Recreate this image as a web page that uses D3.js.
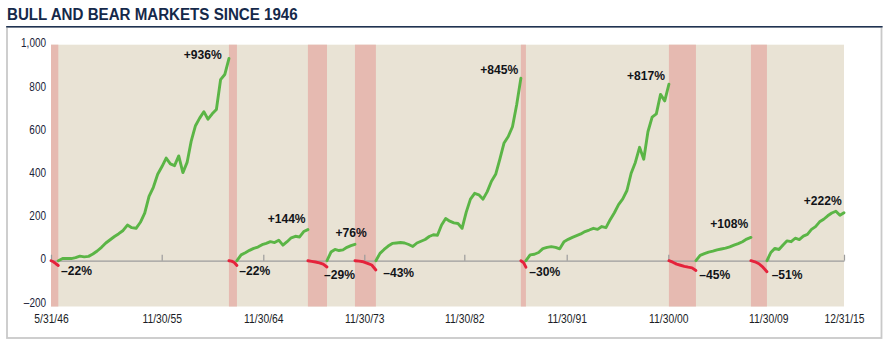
<!DOCTYPE html>
<html>
<head>
<meta charset="utf-8">
<script src="https://cdn.jsdelivr.net/npm/d3@7"></script>
<style>
  html, body { margin: 0; padding: 0; background: #ffffff; }
  svg { display: block; }
  text { font-family: "Liberation Sans", Arial, Helvetica, sans-serif; }
</style>
</head>
<body>
<svg id="chart" width="892" height="348"></svg>
<script>
// ---------------- DATA ----------------
const titleText = "BULL AND BEAR MARKETS SINCE 1946";

const tickDates  = ["1946-05-31","1955-11-30","1964-11-30","1973-11-30","1982-11-30","1991-11-30","2000-11-30","2009-11-30","2015-12-31"];
const tickLabels = ["5/31/46","11/30/55","11/30/64","11/30/73","11/30/82","11/30/91","11/30/00","11/30/09","12/31/15"];
const yTicks = [-200, 0, 200, 400, 600, 800, 1000];

const periodTypes  = ["bear","bull","bear","bull","bear","bull","bear","bull","bear","bull","bear","bull","bear","bull"];
const periodStarts = ["1946-05-31","1947-01-15","1961-11-14","1962-07-31","1968-11-21","1970-08-04","1973-01-30","1974-12-16","1987-11-20","1988-04-30","2000-12-20","2003-05-27","2008-05-08","2009-10-16"];
const periodEnds   = ["1947-01-15","1961-11-14","1962-07-31","1968-11-21","1970-08-04","1973-01-30","1974-12-16","1987-11-20","1988-04-30","2000-12-20","2003-05-27","2008-05-08","2009-10-16","2015-12-31"];
const periodLabels = ["\u201322%","+936%","\u201322%","+144%","\u201329%","+76%","\u201343%","+845%","\u201330%","+817%","\u201345%","+108%","\u201351%","+222%"];

// cumulative % change within each period, evenly spaced in time from start to end
const bear1946 = [0, -5, -14, -22];
const bull1947 = [0,10,11,10,14,21,18,20,31,45,62,82,97,112,125,140,165,153,150,178,220,298,340,400,436,475,448,440,485,408,455,555,625,660,690,655,680,700,838,862,936];
const bear1961 = [0, -2, -8, -22];
const bull1962 = [0,27,37,48,57,63,74,80,88,84,95,72,88,106,113,110,135,144];
const bear1968 = [0, -3, -6, -10, -16, -29];
const bull1970 = [0, 40, 52, 47, 50, 62, 70, 76];
const bear1973 = [0, -2, -5, -12, -20, -43];
const bull1974 = [0,34,52,68,80,82,84,82,75,66,82,90,98,112,120,118,165,195,183,175,172,150,225,285,312,305,285,320,368,400,470,545,575,620,722,845];
const bear1987 = [0, -8, -30];
const bull1988 = [0,27,30,38,56,62,65,62,55,88,99,108,116,124,135,142,150,145,158,153,190,222,260,286,325,405,455,525,470,597,665,680,770,740,817];
const bear2000 = [0, -7, -16, -21, -26, -30, -33, -45];
const bull2003 = [0,25,33,40,44,50,54,58,64,72,79,88,100,108];
const bear2008 = [0, -5, -14, -30, -51];
const bull2009 = [0,38,57,52,73,92,88,104,98,114,122,145,158,180,192,208,221,229,210,222];

const periodValues = [bear1946,bull1947,bear1961,bull1962,bear1968,bull1970,bear1973,bull1974,bear1987,bull1988,bear2000,bull2003,bear2008,bull2009];

// ---------------- LAYOUT ----------------
const parse = d3.timeParse("%Y-%m-%d");
const svg = d3.select("#chart");

const plotLeft = 51, plotRight = 844, plotTop = 44.7, plotBottom = 306.5;
const tickPixels = [51, 161.7, 263.3, 364.3, 464.3, 566.7, 668.3, 768.3, 844];

const x = d3.scaleTime().domain(tickDates.map(parse)).range(tickPixels);
const y = d3.scaleLinear().domain([-212, 1000]).range([plotBottom, plotTop]);

const C = {
  navy: "#15294a", beige: "#e9e3d5", band: "#e6bab1",
  green: "#5bb546", red: "#e5223b", axis: "#9c9c9c", frame: "#c9c9c9"
};

// label offsets (layout only): bull -> from line end (anchor end); bear -> dx from period end, baseline below zero
const labelNudge = [[2.7,14.3],[-7.3,0.8],[2.3,14.3],[-2.3,-6.3],[-3,18.3],[11.7,-7.6],[7.3,16.6],[-2.7,-4.2],[3.3,15],[-4,-4.2],[3.3,18.3],[-2.7,-9.1],[4.7,18.3],[-2.3,-7.7]];

function condense(sel, f) {
  sel.each(function() {
    const w = this.getComputedTextLength();
    this.setAttribute("textLength", (w * f).toFixed(2));
    this.setAttribute("lengthAdjust", "spacingAndGlyphs");
  });
}

// frame
svg.append("rect").attr("x", 7).attr("y", 27).attr("width", 874.5).attr("height", 311)
  .attr("fill", "#fff").attr("stroke", C.frame).attr("stroke-width", 1.8);
svg.append("line").attr("x1", 6.2).attr("x2", 882.6).attr("y1", 26.8).attr("y2", 26.8)
  .attr("stroke", "#1f3352").attr("stroke-width", 1.6);

// title
svg.append("text").attr("x", 7).attr("y", 20.2)
  .attr("font-size", 16).attr("font-weight", "bold").attr("fill", C.navy)
  .text(titleText).call(condense, 0.945);

// plot background
svg.append("rect").attr("x", plotLeft).attr("y", plotTop)
  .attr("width", plotRight - plotLeft).attr("height", plotBottom - plotTop).attr("fill", C.beige);

const periods = periodTypes.map((t, i) => ({
  type: t, start: parse(periodStarts[i]), end: parse(periodEnds[i]),
  label: periodLabels[i], values: periodValues[i], nudge: labelNudge[i]
}));

// bear bands
svg.append("g").selectAll("rect").data(periods.filter(p => p.type === "bear")).join("rect")
  .attr("x", d => x(d.start)).attr("width", d => x(d.end) - x(d.start))
  .attr("y", plotTop).attr("height", plotBottom - plotTop).attr("fill", C.band);

// zero axis with upward ticks
const zeroAxis = svg.append("g").attr("transform", `translate(0,${y(0)})`)
  .call(d3.axisTop(x).tickValues(tickDates.map(parse)).tickSize(6).tickSizeOuter(0).tickFormat(""));
zeroAxis.selectAll("path,line").attr("stroke", C.axis).attr("stroke-width", 1.2);

// x labels
const xLab = svg.append("g").attr("transform", `translate(0,${plotBottom})`)
  .call(d3.axisBottom(x).tickValues(tickDates.map(parse)).tickSize(0).tickPadding(8)
    .tickFormat((d, i) => tickLabels[i]));
xLab.select(".domain").remove();
xLab.selectAll("text").attr("font-size", 12).attr("font-family", null).attr("fill", "#1a1d26").call(condense, 0.86);

// y labels
const fmt = d3.format(",");
const yLab = svg.append("g").attr("transform", `translate(${plotLeft},-1.6)`)
  .call(d3.axisLeft(y).tickValues(yTicks).tickSize(0).tickPadding(5)
    .tickFormat(v => v < 0 ? "\u2013" + fmt(-v) : fmt(v)));
yLab.select(".domain").remove();
yLab.selectAll("text").attr("font-size", 12).attr("font-family", null).attr("fill", "#1a2238").call(condense, 0.83);

// lines
const pts = p => p.values.map((v, i) => ({
  date: new Date(+p.start + (p.end - p.start) * i / (p.values.length - 1)), v
}));
const line = d3.line().x(d => x(d.date)).y(d => y(d.v));
svg.append("g").selectAll("path").data(periods).join("path")
  .attr("d", p => line(pts(p)))
  .attr("fill", "none")
  .attr("stroke", p => p.type === "bull" ? C.green : C.red)
  .attr("stroke-width", 2.9).attr("stroke-linejoin", "round").attr("stroke-linecap", "round");

// labels
svg.append("g").selectAll("text").data(periods).join("text")
  .attr("x", p => x(p.end) + p.nudge[0])
  .attr("y", p => p.type === "bull" ? y(p.values[p.values.length - 1]) + p.nudge[1] : y(0) + p.nudge[1])
  .attr("text-anchor", p => p.type === "bull" ? "end" : "start")
  .attr("font-size", 13).attr("font-weight", "bold").attr("fill", "#111318")
  .text(p => p.label)
  .call(condense, 0.93);
</script>
</body>
</html>
